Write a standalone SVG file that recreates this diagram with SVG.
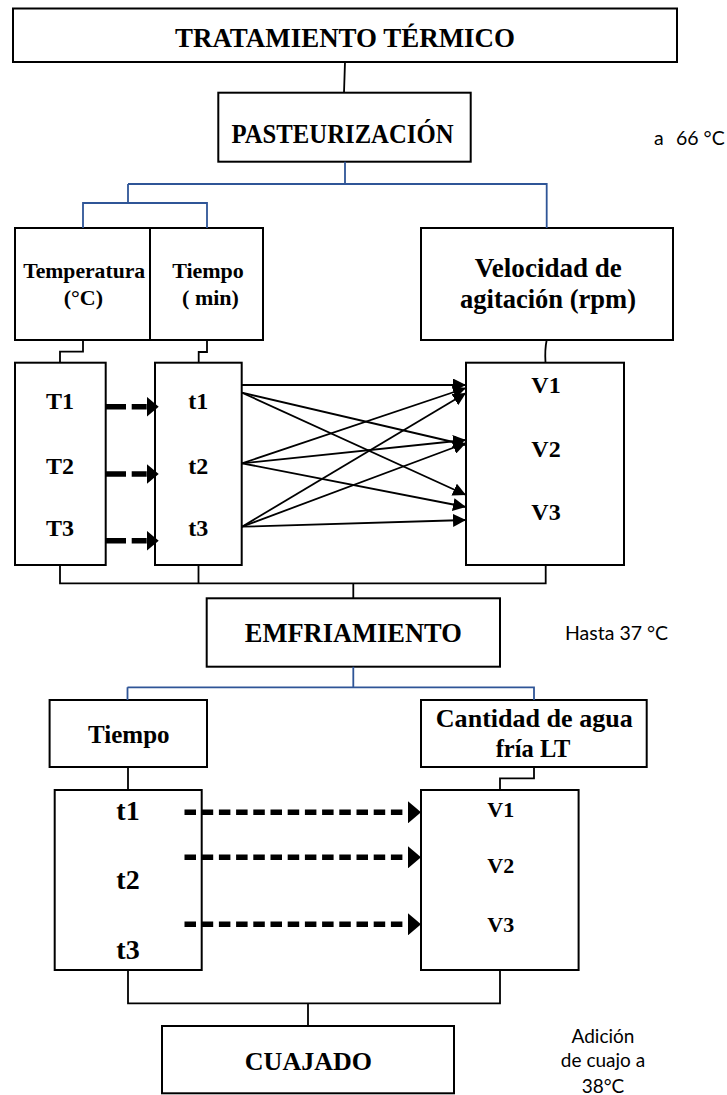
<svg xmlns="http://www.w3.org/2000/svg" width="727" height="1095" viewBox="0 0 727 1095">
<style>
.box{fill:#fff;stroke:#000;stroke-width:2}
.t{font-family:"Liberation Serif","Times New Roman",serif;font-weight:bold;fill:#000;text-anchor:middle}
.c{font-family:Lato,"Liberation Sans",sans-serif;fill:#000}
.k{fill:none;stroke:#000;stroke-width:1.8}
.b{fill:none;stroke:#2F5597;stroke-width:1.8}
.a{fill:none;stroke:#000;stroke-width:1.8;marker-end:url(#ah)}
.d1{fill:none;stroke:#000;stroke-width:5.5;stroke-dasharray:20 5.7;marker-end:url(#dh)}
.d2{fill:none;stroke:#000;stroke-width:5.5;stroke-dasharray:11.5 5.7;marker-end:url(#dh2)}
</style>
<defs>
<marker id="ah" markerUnits="userSpaceOnUse" viewBox="0 0 13 13" markerWidth="13" markerHeight="13" refX="13" refY="6.5" orient="auto"><path d="M0,0 L13,6.5 L0,13 z" fill="#000"/></marker>
<marker id="dh" markerUnits="userSpaceOnUse" viewBox="0 0 12 20" markerWidth="12" markerHeight="20" refX="0" refY="10" orient="auto"><path d="M0,0 L12,10 L0,20 z" fill="#000"/></marker>
<marker id="dh2" markerUnits="userSpaceOnUse" viewBox="0 0 13 22" markerWidth="13" markerHeight="22" refX="0" refY="11" orient="auto"><path d="M0,0 L13,11 L0,22 z" fill="#000"/></marker>
</defs>
<rect width="727" height="1095" fill="#fff"/>

<g id="tratamiento">
<rect class="box" x="13" y="8.5" width="664" height="53.5"/>
<text class="t" x="345" y="46.7" font-size="28" textLength="340" lengthAdjust="spacingAndGlyphs">TRATAMIENTO TÉRMICO</text>
</g>
<g id="pasteurizacion">
<rect class="box" x="218.3" y="92.7" width="252.4" height="69"/>
<text class="t" x="342.5" y="143.3" font-size="27" textLength="222" lengthAdjust="spacingAndGlyphs">PASTEURIZACIÓN</text>
</g>
<text class="c" x="654" y="145" font-size="19.5">a <tspan x="676">66 °C</tspan></text>

<g id="temperatura">
<rect class="box" x="15" y="228" width="135" height="112"/>
<text class="t" x="84.2" y="278.3" font-size="22" textLength="122" lengthAdjust="spacingAndGlyphs">Temperatura</text>
<text class="t" x="83.3" y="305" font-size="22">(°C)</text>
</g>
<g id="tiempo1">
<rect class="box" x="150" y="228" width="113" height="112"/>
<text class="t" x="208" y="278.3" font-size="22">Tiempo</text>
<text class="t" x="210.5" y="305" font-size="22">( min)</text>
</g>
<g id="velocidad">
<rect class="box" x="421" y="228" width="252" height="112"/>
<text class="t" x="548.3" y="277" font-size="26.5" textLength="147" lengthAdjust="spacingAndGlyphs">Velocidad de</text>
<text class="t" x="548" y="308" font-size="26.5" textLength="176" lengthAdjust="spacingAndGlyphs">agitación (rpm)</text>
</g>

<g id="T">
<rect class="box" x="15" y="362.7" width="90.7" height="202.3"/>
<text class="t" x="60" y="409" font-size="24">T1</text>
<text class="t" x="60" y="474" font-size="24">T2</text>
<text class="t" x="60" y="536" font-size="24">T3</text>
</g>
<g id="t">
<rect class="box" x="155" y="362.7" width="86.7" height="202.3"/>
<text class="t" x="198.3" y="409" font-size="24">t1</text>
<text class="t" x="198.3" y="474" font-size="24">t2</text>
<text class="t" x="198.3" y="536" font-size="24">t3</text>
</g>
<g id="V">
<rect class="box" x="466" y="362.7" width="158" height="202.3"/>
<text class="t" x="546" y="392.7" font-size="24">V1</text>
<text class="t" x="546" y="456.7" font-size="24">V2</text>
<text class="t" x="546" y="520" font-size="24">V3</text>
</g>

<g id="emfriamiento">
<rect class="box" x="206.7" y="598.3" width="293.3" height="68.4"/>
<text class="t" x="353.3" y="641.7" font-size="27" textLength="217" lengthAdjust="spacingAndGlyphs">EMFRIAMIENTO</text>
</g>
<text class="c" x="565" y="640" font-size="19.5">Hasta 37 °C</text>

<g id="tiempo2">
<rect class="box" x="49.6" y="700" width="157.4" height="67"/>
<text class="t" x="128.8" y="742.7" font-size="25">Tiempo</text>
</g>
<g id="cantidad">
<rect class="box" x="421" y="700" width="225.7" height="67"/>
<text class="t" x="534.3" y="726.7" font-size="24.5" textLength="197" lengthAdjust="spacingAndGlyphs">Cantidad de agua</text>
<text class="t" x="533" y="756.7" font-size="24.5">fría LT</text>
</g>

<g id="t2box">
<rect class="box" x="54.7" y="790" width="147" height="180"/>
<text class="t" x="128" y="820" font-size="28">t1</text>
<text class="t" x="128" y="889" font-size="28">t2</text>
<text class="t" x="128" y="959.3" font-size="28">t3</text>
</g>
<g id="v2box">
<rect class="box" x="421" y="790" width="157.6" height="180"/>
<text class="t" x="500.7" y="816.7" font-size="22">V1</text>
<text class="t" x="500.7" y="873.3" font-size="22">V2</text>
<text class="t" x="500.7" y="931.7" font-size="22">V3</text>
</g>

<g id="cuajado">
<rect class="box" x="162" y="1026" width="292" height="67.3"/>
<text class="t" x="308.4" y="1070" font-size="26">CUAJADO</text>
</g>
<text class="c" font-size="19" text-anchor="middle"><tspan x="603" y="1042.7">Adición</tspan><tspan x="603" y="1067.3">de cuajo a</tspan><tspan x="603" y="1092.7">38°C</tspan></text>

<g id="connectors">
<line class="k" x1="345" y1="62" x2="344" y2="92.7"/>
<path class="b" d="M345,161.7 V184 M128,184 H546.7 V228 M128,184 V203 M83,228 V203 H207 V228"/>
<path class="k" d="M83,340 V351.7 H60 V362.7 M207,340 V352 H198.7 V362.7"/>
<path class="k" d="M546.7,340 C545,348 545,355 545.5,362.7"/>
<line class="a" x1="242" y1="385" x2="466" y2="385"/>
<line class="a" x1="242" y1="392.7" x2="466" y2="445"/>
<line class="a" x1="242" y1="392.7" x2="466" y2="495"/>
<line class="a" x1="242" y1="463.3" x2="466" y2="388"/>
<line class="a" x1="242" y1="463.3" x2="466" y2="440"/>
<line class="a" x1="242" y1="463.3" x2="466" y2="507"/>
<line class="a" x1="242" y1="526.7" x2="466" y2="393"/>
<line class="a" x1="242" y1="526.7" x2="466" y2="443"/>
<line class="a" x1="242" y1="526.7" x2="466" y2="520"/>
<line class="d1" x1="106" y1="406.7" x2="146.7" y2="406.7"/>
<line class="d1" x1="106" y1="474" x2="146.7" y2="474"/>
<line class="d1" x1="106" y1="540.7" x2="146.7" y2="540.7"/>
<path class="k" d="M60,565 V583.3 H545.7 V565 M198.5,565 V583.3 M353.3,583.3 V598.3"/>
<path class="b" d="M353.3,666.7 V687.3 M127.5,687.3 H534 V700 M127.5,687.3 V700"/>
<path class="k" d="M128,767 V790 M534,767 V778.3 H500 V790"/>
<line class="d2" x1="184.5" y1="812.3" x2="408" y2="812.3"/>
<line class="d2" x1="184.5" y1="857.3" x2="408" y2="857.3"/>
<line class="d2" x1="184.5" y1="924.3" x2="408" y2="924.3"/>
<path class="k" d="M128,970 V1003.3 H500 V970 M308,1003.3 V1026"/>
</g>
</svg>
